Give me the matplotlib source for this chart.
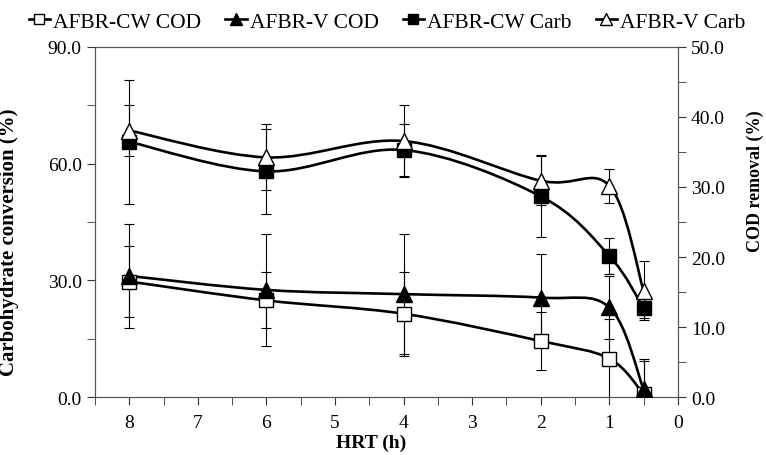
import matplotlib
matplotlib.use("Agg")
import matplotlib.pyplot as plt
from matplotlib.path import Path
from matplotlib.patches import PathPatch
from matplotlib.lines import Line2D
from matplotlib.ticker import MultipleLocator, FormatStrFormatter
import numpy as np

plt.rcParams['font.family'] = ['Liberation Serif', 'DejaVu Serif']

# HRT (h)
hrt = [8, 6, 4, 2, 1, 0.5]

# Carbohydrate conversion (%) - left axis
cw_carb = [65.6, 58.0, 63.5, 51.6, 36.3, 22.9]
cw_carb_err = [16.0, 11.0, 6.8, 10.5, 4.6, 2.5]
v_carb = [68.5, 61.6, 65.8, 55.6, 54.3, 27.3]
v_carb_err = [6.5, 8.5, 9.2, 6.3, 4.4, 7.6]

# COD removal (%) - right axis
cw_cod = [16.5, 13.8, 11.9, 8.0, 5.5, 0.4]
cw_cod_err = [5.0, 4.0, 6.0, 4.1, 5.6, 4.8]
v_cod = [17.3, 15.3, 14.7, 14.2, 12.8, 1.1]
v_cod_err = [7.4, 8.0, 8.6, 6.2, 4.5, 4.3]


def smooth_path(x, y):
    """Excel-style smoothed line as cubic Bezier segments."""
    p = np.column_stack([x, y]).astype(float)
    n = len(p)
    verts = [p[0]]
    codes = [Path.MOVETO]
    for i in range(n - 1):
        p0 = p[i - 1] if i > 0 else p[i]
        p3 = p[i + 2] if i + 2 < n else p[i + 1]
        c1 = p[i] + (p[i + 1] - p0) / 6.0
        c2 = p[i + 1] - (p3 - p[i]) / 6.0
        verts += [c1, c2, p[i + 1]]
        codes += [Path.CURVE4] * 3
    return Path(verts, codes)


fig = plt.figure(figsize=(7.66, 4.56), dpi=100)
ax = fig.add_axes([0.124, 0.127, 0.761, 0.768])
ax2 = ax.twinx()

lw = 1.9
ms = 10
ekw = dict(fmt='none', ecolor='black', elinewidth=0.8, capsize=3.5, capthick=0.8)

# curves
for a, yy in [(ax, cw_carb), (ax, v_carb), (ax2, cw_cod), (ax2, v_cod)]:
    a.add_patch(PathPatch(smooth_path(hrt, yy), facecolor='none',
                          edgecolor='black', lw=lw, zorder=2))

ax.errorbar(hrt, cw_carb, yerr=cw_carb_err, **ekw)
ax.errorbar(hrt, v_carb, yerr=v_carb_err, **ekw)
ax2.errorbar(hrt, cw_cod, yerr=cw_cod_err, **ekw)
ax2.errorbar(hrt, v_cod, yerr=v_cod_err, **ekw)

ax.plot(hrt, cw_carb, ls='none', marker='s', ms=ms, mfc='black', mec='black', zorder=3)
ax.plot(hrt, v_carb, ls='none', marker='^', ms=ms + 1, mfc='white', mec='black', mew=1, zorder=3)
ax2.plot(hrt, cw_cod, ls='none', marker='s', ms=ms, mfc='white', mec='black', mew=1, zorder=3)
ax2.plot(hrt, v_cod, ls='none', marker='^', ms=ms + 1, mfc='black', mec='black', zorder=3)

ax.set_xlim(8.5, 0)
ax.set_ylim(0, 90)
ax2.set_ylim(0, 50)

ax.xaxis.set_major_locator(MultipleLocator(1))
ax.xaxis.set_minor_locator(MultipleLocator(0.5))
ax.yaxis.set_major_locator(MultipleLocator(30))
ax.yaxis.set_minor_locator(MultipleLocator(15))
ax2.yaxis.set_major_locator(MultipleLocator(10))
ax2.yaxis.set_minor_locator(MultipleLocator(5))
ax.yaxis.set_major_formatter(FormatStrFormatter('%.1f'))
ax2.yaxis.set_major_formatter(FormatStrFormatter('%.1f'))

for a in (ax, ax2):
    a.tick_params(which='both', direction='out', labelsize=14, color='#333333')
    a.tick_params(which='major', length=6)
    a.tick_params(which='minor', length=6)
    for s in a.spines.values():
        s.set_color('#555555')
ax.tick_params(axis='x', pad=6)

ax.set_xlabel('HRT (h)', fontsize=14, fontweight='bold')
ax.xaxis.set_label_coords(0.473, -0.105)
ax.set_ylabel('Carbohydrate conversion (%)', fontsize=15, fontweight='bold')
ax.yaxis.set_label_coords(-0.13, 0.446)
ax2.set_ylabel('COD removal (%)', fontsize=13, fontweight='bold')
ax2.yaxis.set_label_coords(1.118, 0.62)

handles = [
    Line2D([], [], color='black', lw=lw, marker='s', ms=7, mfc='white', mec='black'),
    Line2D([], [], color='black', lw=lw, marker='^', ms=8, mfc='black', mec='black'),
    Line2D([], [], color='black', lw=lw, marker='s', ms=7, mfc='black', mec='black'),
    Line2D([], [], color='black', lw=lw, marker='^', ms=8, mfc='white', mec='black'),
]
labels = ['AFBR-CW COD', 'AFBR-V COD', 'AFBR-CW Carb', 'AFBR-V Carb']
fig.legend(handles, labels, loc='upper left', bbox_to_anchor=(0.012, 1.015), ncol=4,
           frameon=False, fontsize=15.5, handlelength=1.0, handletextpad=0.15,
           columnspacing=1.1)

fig.savefig('out.png', dpi=100)
plt.close(fig)
